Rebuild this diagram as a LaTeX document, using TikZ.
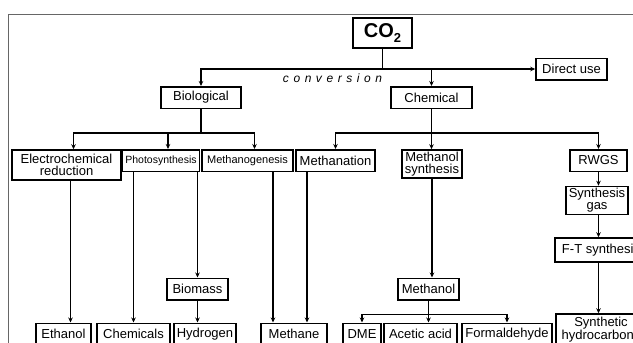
\documentclass[tikz,border=0pt]{standalone}
\usepackage{fontspec}
\setmainfont{Liberation Sans}
\newfontfamily\convfont{Liberation Sans}[LetterSpace=38]
\usetikzlibrary{arrows.meta}

\begin{document}
\begin{tikzpicture}[
  x=1pt, y=-1pt,
  box/.style={draw, line width=1.5pt, inner xsep=3pt, inner ysep=2pt,
    minimum height=21.5pt, align=center, font=\fontsize{13}{12}\selectfont},
  line/.style={line width=1.3pt},
  arr/.style={line, -{Stealth[length=5pt,width=4.5pt]}},
  frame/.style={black!60, line width=1pt}
]
\useasboundingbox (0,0) rectangle (633,343);
\clip (0,0) rectangle (633,343);
\draw[frame] (633,14) -- (8.5,14) -- (8.5,343);

% top
\node[box, minimum width=59pt, minimum height=30pt, font=\fontsize{20}{20}\selectfont\bfseries]
  (co2) at (382.5,33) {CO\raisebox{-0.25em}{\fontsize{13}{13}\selectfont 2}};
\node[box, minimum width=71pt] (direct) at (571.5,69) {Direct use};
\node (conv) at (332.5,78) {\fontsize{12}{12}\convfont\itshape conversion};
\node[box, minimum width=80pt] (bio) at (201,97.5) {Biological};
\node[box, minimum width=81pt] (chem) at (431.5,97.5) {Chemical};

% processes
\node[box, minimum width=109pt, minimum height=30pt] (ec) at (66.5,165) {Electrochemical\\reduction};
\node[box, minimum width=76pt, font=\fontsize{10.5}{12}\selectfont] (photo) at (161,160.5) {Photosynthesis};
\node[box, minimum width=91pt, font=\fontsize{11}{12}\selectfont] (mgen) at (247.5,160.5) {Methanogenesis};
\node[box, minimum width=79pt] (mtn) at (335.5,160.5) {Methanation};
\node[box, minimum width=60pt, minimum height=28pt] (msyn) at (432,164) {Methanol\\synthesis};
\node[box, minimum width=57pt] (rwgs) at (598.5,160.5) {RWGS};
\node[box, minimum width=62pt, minimum height=27pt] (sgas) at (597,200.5) {Synthesis\\gas};
\node[box, minimum width=92pt, minimum height=24pt] (ft) at (601,250) {F-T synthesis};
\node[box, minimum width=61pt] (biomass) at (197.5,289) {Biomass};
\node[box, minimum width=61pt] (methanol) at (428.5,289) {Methanol};

% products
\node[box, minimum width=55pt] (ethanol) at (63.5,334) {Ethanol};
\node[box, minimum width=73pt] (chemicals) at (133.5,334) {Chemicals};
\node[box, minimum width=62pt] (hydrogen) at (205,334) {Hydrogen};
\node[box, minimum width=66pt] (methane) at (294,334) {Methane};
\node[box, minimum width=38pt] (dme) at (362,334) {DME};
\node[box, minimum width=73pt] (acetic) at (420.5,334) {Acetic acid};
\node[box, minimum width=90pt] (formal) at (507,334) {Formaldehyde};
\node[box, minimum width=90pt, minimum height=31pt] (synhc) at (601,329.5) {Synthetic\\hydrocarbons};

% connectors
\draw[arr] (co2.south) |- (direct.west);
\draw[arr] (co2.south |- direct.west) -| (bio.north);
\draw[arr] (chem.north |- direct.west) -- (chem.north);

\draw[line] (bio.south) -- ++(0,24) coordinate (bj);
\draw[arr] (bj) -| ([xshift=7]ec.north);
\draw[arr] (bj) -| ([xshift=7]photo.north);
\draw[arr] (bj) -| ([xshift=7]mgen.north);

\draw[line] (chem.south) -- ++(0,24) coordinate (cj);
\draw[arr] (cj) -| (mtn.north);
\draw[arr] (cj) -- (cj |- msyn.north);
\draw[arr] (cj) -| (rwgs.north);

\draw[arr] ([xshift=4]ec.south) -- ([xshift=4]ec.south |- ethanol.north);
\draw[arr] (photo.south -| chemicals.north) -- (chemicals.north);
\draw[arr] (photo.south -| biomass.north) -- (biomass.north);
\draw[arr] (biomass.south) -- (biomass.south |- hydrogen.north);
\draw[arr] ([xshift=-21]methane.north |- mgen.south) -- ([xshift=-21]methane.north);
\draw[arr] ([xshift=13]methane.north |- mtn.south) -- ([xshift=13]methane.north);

\draw[arr] (msyn.south) -- (msyn.south |- methanol.north);
\draw[line] (methanol.south) -- ++(0,14) coordinate (mj);
\draw[arr] (mj) -| (dme.north);
\draw[arr] (mj) -- (mj |- acetic.north);
\draw[arr] (mj) -| (formal.north);

\draw[arr] (rwgs.south) -- (rwgs.south |- sgas.north);
\draw[arr] (rwgs.south |- sgas.south) -- (rwgs.south |- ft.north);
\draw[arr] (rwgs.south |- ft.south) -- (rwgs.south |- synhc.north);
\end{tikzpicture}
\end{document}
